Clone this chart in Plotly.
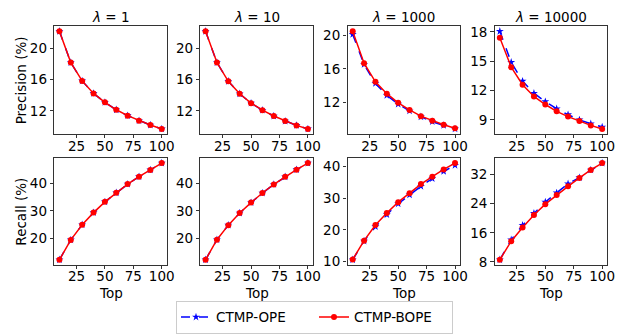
import plotly.graph_objects as go

top_n = [10, 20, 30, 40, 50, 60, 70, 80, 90, 100]
lambda_labels = ["1", "10", "1000", "10000"]

# Precision (%) per lambda setting
prec_ope = [
    [22.2, 18.2, 15.85, 14.25, 13.1, 12.15, 11.4, 10.75, 10.2, 9.7],
    [22.2, 18.2, 15.8, 14.2, 13.0, 12.1, 11.35, 10.7, 10.15, 9.7],
    [20.1, 16.53, 14.27, 12.86, 11.81, 11.0, 10.3, 9.72, 9.28, 8.86],
    [18.07, 14.9, 12.97, 11.73, 10.87, 10.13, 9.53, 9.0, 8.6, 8.27],
]
prec_bope = [
    [22.2, 18.2, 15.85, 14.25, 13.1, 12.15, 11.4, 10.75, 10.2, 9.7],
    [22.2, 18.2, 15.8, 14.2, 13.0, 12.1, 11.35, 10.7, 10.15, 9.7],
    [20.47, 16.68, 14.46, 13.05, 11.97, 11.12, 10.38, 9.83, 9.36, 8.93],
    [17.4, 14.4, 12.6, 11.4, 10.57, 9.87, 9.33, 8.87, 8.43, 8.07],
]
# Recall (%) per lambda setting
rec_ope = [
    [12.28, 19.5, 25.0, 29.4, 33.3, 36.6, 39.75, 42.45, 44.9, 47.4],
    [12.2, 19.5, 24.8, 29.2, 33.0, 36.5, 39.6, 42.4, 45.0, 47.4],
    [10.6, 16.5, 21.0, 24.8, 28.2, 31.0, 33.7, 36.1, 38.4, 40.3],
    [8.6, 14.1, 18.1, 21.4, 24.5, 27.0, 29.5, 31.2, 33.3, 35.2],
]
rec_bope = [
    [12.28, 19.5, 25.0, 29.4, 33.3, 36.6, 39.75, 42.45, 44.9, 47.4],
    [12.2, 19.5, 24.8, 29.2, 33.0, 36.5, 39.6, 42.4, 45.0, 47.4],
    [10.7, 16.6, 21.5, 25.3, 28.7, 31.5, 34.4, 36.7, 39.0, 41.0],
    [8.6, 13.7, 17.5, 20.9, 23.9, 26.4, 28.8, 31.1, 33.3, 35.2],
]
prec_ticks = [[12, 16, 20], [12, 16, 20], [12, 16, 20], [9, 12, 15, 18]]
rec_ticks = [[20, 30, 40], [20, 30, 40], [10, 20, 30, 40], [8, 16, 24, 32]]
x_ticks = [25, 50, 75, 100]

W, H = 637, 335
col_px = [(55, 169), (203, 317), (352, 466), (501, 615)]
row_px = [(24, 134), (159, 268)]

BLUE = "#0000ff"
RED = "#ff0000"
FONT = dict(family="DejaVu Sans", size=13.5, color="black")

fig = go.Figure()
annotations = []


def yrange(*series):
    lo = min(min(s) for s in series)
    hi = max(max(s) for s in series)
    pad = (hi - lo) * 0.05
    return [lo - pad, hi + pad]


k = 0
for r, (ope_all, bope_all, ticks_all) in enumerate(
    [(prec_ope, prec_bope, prec_ticks), (rec_ope, rec_bope, rec_ticks)]
):
    for c in range(4):
        k += 1
        xa = "x" if k == 1 else f"x{k}"
        ya = "y" if k == 1 else f"y{k}"
        show = (k == 1)
        fig.add_trace(go.Scatter(
            x=top_n, y=ope_all[c], xaxis=xa, yaxis=ya, mode="lines+markers",
            name="CTMP-OPE", legendgroup="ope", showlegend=show,
            line=dict(color=BLUE, width=1.5, dash="dash"),
            marker=dict(symbol="star", size=6, color=BLUE),
        ))
        fig.add_trace(go.Scatter(
            x=top_n, y=bope_all[c], xaxis=xa, yaxis=ya, mode="lines+markers",
            name="CTMP-BOPE", legendgroup="bope", showlegend=show,
            line=dict(color=RED, width=1.5),
            marker=dict(symbol="circle", size=6, color=RED),
        ))
        x0, x1 = col_px[c]
        y0, y1 = row_px[r]
        axis_common = dict(
            showline=True, mirror=True, linecolor="#333", linewidth=1.2,
            ticks="outside", ticklen=3.5, tickcolor="#333", showgrid=False,
            zeroline=False, tickfont=FONT,
        )
        fig.layout[f"xaxis{'' if k == 1 else k}"] = dict(
            domain=[x0 / W, x1 / W], anchor=ya, range=[5.5, 104.5],
            tickvals=x_ticks, ticklabelstandoff=-4, **axis_common,
        )
        fig.layout[f"yaxis{'' if k == 1 else k}"] = dict(
            domain=[1 - y1 / H, 1 - y0 / H], anchor=xa,
            range=yrange(ope_all[c], bope_all[c]),
            tickvals=ticks_all[c], **axis_common,
        )
        if r == 0:
            annotations.append(dict(
                text=f"<i>λ</i> = {lambda_labels[c]}", xref="paper", yref="paper",
                x=(x0 + x1) / 2 / W, y=1 - 14 / H, showarrow=False,
                xanchor="center", yanchor="middle", font=FONT,
            ))
        else:
            annotations.append(dict(
                text="Top", xref="paper", yref="paper",
                x=(x0 + x1) / 2 / W, y=1 - 297 / H, showarrow=False,
                xanchor="center", yanchor="middle", font=FONT,
            ))

for label, (y0, y1) in zip(["Precision (%)", "Recall (%)"], row_px):
    annotations.append(dict(
        text=label, xref="paper", yref="paper", x=21.5 / W, y=1 - (y0 + y1) / 2 / H,
        showarrow=False, textangle=-90, xanchor="center", yanchor="middle", font=FONT,
    ))

fig.update_layout(
    width=W, height=H, margin=dict(l=0, r=0, t=0, b=0),
    paper_bgcolor="white", plot_bgcolor="white",
    annotations=annotations,
    legend=dict(
        orientation="h", x=0.5, xanchor="center", y=1 - 305 / H, yanchor="top",
        bordercolor="#cccccc", borderwidth=1, bgcolor="white",
        font=FONT, entrywidth=93, entrywidthmode="pixels",
        tracegroupgap=0,
    ),
)

fig.write_html("out.html")
